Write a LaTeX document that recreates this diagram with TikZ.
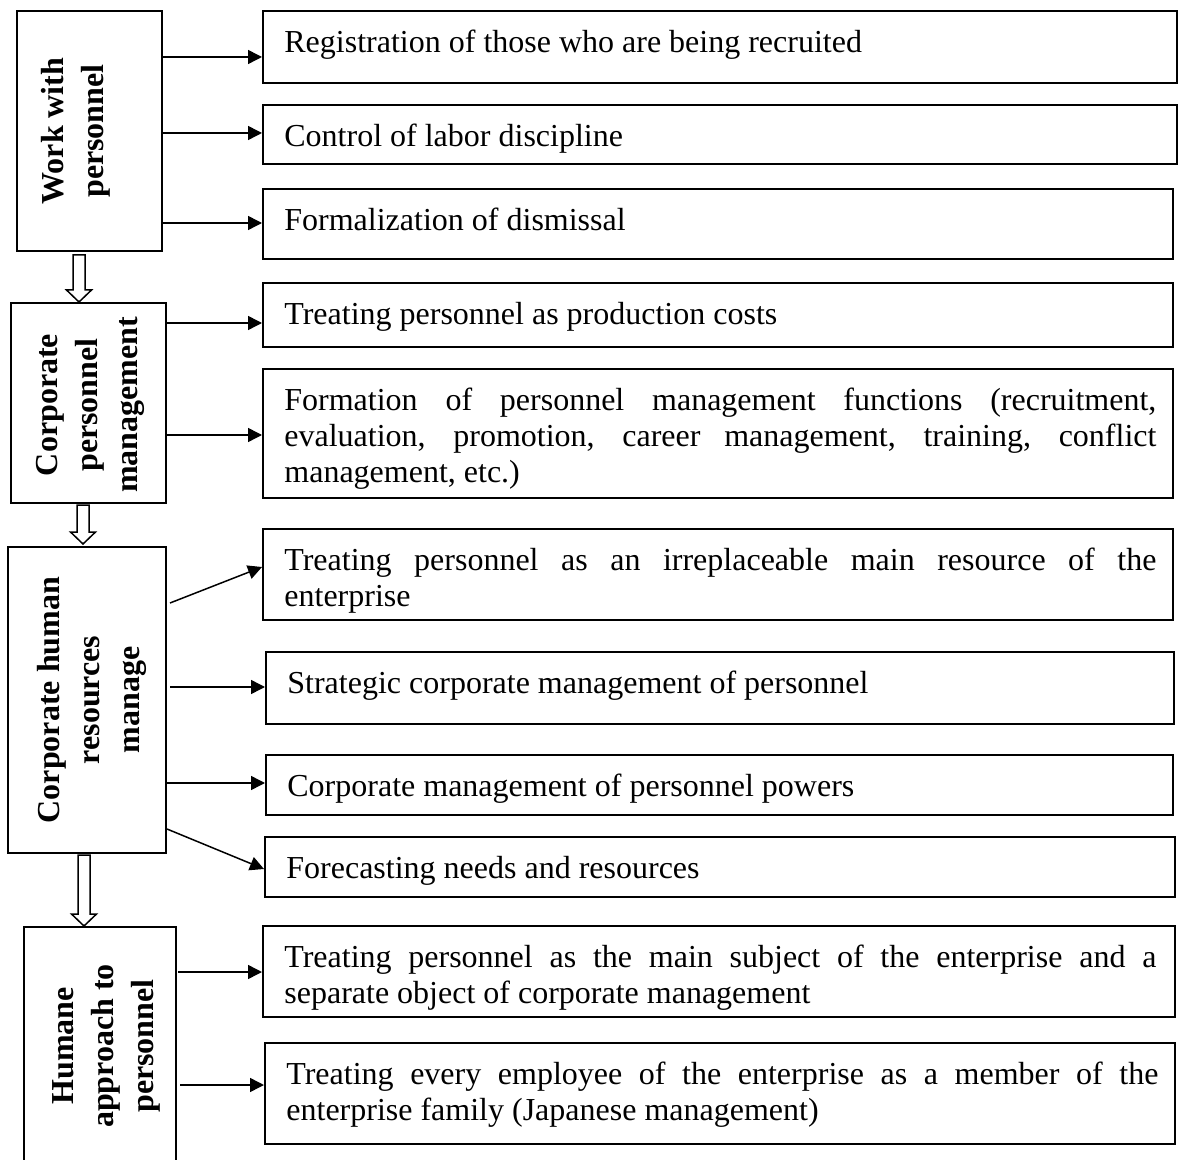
\documentclass[tikz,border=0pt]{standalone}
\usepackage{fontspec}
\setmainfont{Liberation Serif}
\usetikzlibrary{arrows.meta,fit,calc}
\hyphenpenalty=10000
\exhyphenpenalty=10000
\tolerance=10000
\newcommand\mynoshrink{\fontdimen4\font=0pt\relax}
\newcommand\myrbox[6]{%
  \node[box,fit={(#2,#3) (#4,#5)}] (#1) {};
  \node[rtext] (#1t) at ($(#2,#3)+(21,15)$) {\rule{0pt}{13pt}#6};
}
\newcommand\myharrow[2]{%
  \draw[hollow] ($(#1)+(-6,0)$) -- ($(#2)+(-6,-12)$) -- ($(#2)+(-12.5,-12)$) -- (#2)
    -- ($(#2)+(12.5,-12)$) -- ($(#2)+(6,-12)$) -- ($(#1)+(6,0)$) -- cycle;
}
\begin{document}
\begin{tikzpicture}[x=0.5pt,y=-0.5pt,
  box/.style={draw,line width=1pt,inner sep=0pt},
  rtext/.style={anchor=north west,inner sep=0pt,text width=436pt,align=justify,
    font=\fontsize{16}{18}\selectfont\mynoshrink},
  ltext/.style={rotate=90,inner sep=0pt,align=center,
    font=\bfseries\fontsize{16}{20}\selectfont},
  arr/.style={line width=0.75pt,-{Triangle[length=7pt,width=7pt]}},
  hollow/.style={line width=0.75pt,fill=white}]
\useasboundingbox (0,0) rectangle (1178,1160);
\clip (0,0) rectangle (1178,1160);

% left boxes
\node[box,fit={(17,11) (162,251)}] (L1) {};
\node[box,fit={(11,303) (166,503)}] (L2) {};
\node[box,fit={(8,547) (166,853)}] (L3) {};
\node[box,fit={(24,927) (176,1180)}] (L4) {};
\node[ltext] (T1) at (76,131) {Work with\\personnel};
\node[ltext] (T2) at (90,405) {Corporate\\personnel\\management};
\node[ltext] (T3) at (92,700) {Corporate human\\resources\\manage};
\node[ltext] (T4) at (106,1046) {Humane\\approach to\\personnel};

% right boxes
\myrbox{R1}{263}{11}{1177}{83}{Registration of those who are being recruited}
\myrbox{R2}{263}{105}{1177}{164}{Control of labor discipline}
\myrbox{R3}{263}{189}{1173}{259}{Formalization of dismissal}
\myrbox{R4}{263}{283}{1173}{347}{Treating personnel as production costs}
\myrbox{R5}{263}{369}{1173}{498}{Formation of personnel management functions (recruitment, evaluation, promotion, career management, training, conflict management, etc.)}
\myrbox{R6}{263}{529}{1173}{620}{Treating personnel as an irreplaceable main resource of the enterprise}
\myrbox{R7}{266}{652}{1174}{724}{Strategic corporate management of personnel}
\myrbox{R8}{266}{755}{1173}{815}{Corporate management of personnel powers}
\myrbox{R9}{265}{837}{1175}{897}{Forecasting needs and resources}
\myrbox{R10}{263}{926}{1175}{1017}{Treating personnel as the main subject of the enterprise and a separate object of corporate management}
\myrbox{R11}{265}{1043}{1175}{1144}{Treating every employee of the enterprise as a member of the enterprise family (Japanese management)}

% connectors
\draw[arr] (L1.east |- 0,57) -- (R1.west |- 0,57);
\draw[arr] (L1.east |- 0,133) -- (R2.west |- 0,133);
\draw[arr] (L1.east |- 0,223) -- (R3.west |- 0,223);
\draw[arr] (L2.east |- 0,323) -- (R4.west |- 0,323);
\draw[arr] (L2.east |- 0,435) -- (R5.west |- 0,435);
\draw[arr] ($(L3.east |- 0,603)+(3,0)$) -- (R6.west |- 0,567);
\draw[arr] ($(L3.east |- 0,687)+(3,0)$) -- (R7.west |- 0,687);
\draw[arr] (L3.east |- 0,783) -- (R8.west |- 0,783);
\draw[arr] (L3.east |- 0,829) -- (R9.west |- 0,869);
\draw[arr] ($(L4.east |- 0,972)+(1,0)$) -- (R10.west |- 0,972);
\draw[arr] ($(L4.east |- 0,1085)+(3,0)$) -- (R11.west |- 0,1085);

% hollow arrows
\coordinate (H1a) at (79,255);
\coordinate (H1b) at (L2.north -| H1a);
\myharrow{H1a}{H1b}
\coordinate (H2a) at (83,505);
\coordinate (H2b) at ($(L3.north -| H2a)+(0,-2)$);
\myharrow{H2a}{H2b}
\coordinate (H3a) at (84,855);
\coordinate (H3b) at (L4.north -| H3a);
\myharrow{H3a}{H3b}
\end{tikzpicture}
\end{document}
